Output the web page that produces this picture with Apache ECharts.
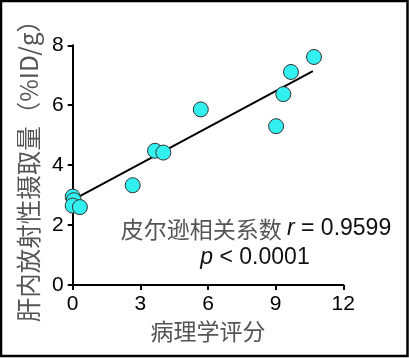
<!DOCTYPE html>
<html>
<head>
<meta charset="utf-8">
<script src="https://cdn.jsdelivr.net/npm/echarts@6/dist/echarts.min.js"></script>
<style>
html,body{margin:0;padding:0;background:#fff;}
#c{width:409px;height:358px;}
</style>
</head>
<body>
<div id="c"></div>
<script>
// Data
const pathologyScore = [0, 0.05, 0, 0.32, 2.66, 3.65, 4.02, 5.68, 9.02, 9.34, 9.68, 10.7];
const liverUptake    = [2.95, 2.83, 2.65, 2.6, 3.33, 4.48, 4.42, 5.86, 5.3, 6.37, 7.11, 7.61];
const fitLineX = [0.05, 10.65];
const fitLineY = [2.86, 7.14];
const xTicks = [0, 3, 6, 9, 12];
const yTicks = [0, 2, 4, 6, 8];
const xTitle = '病理学评分';
const yTitle = '肝内放射性摄取量（%ID/g）';
const annotLine1 = ['皮尔逊相关系数 ', 'r', ' = 0.9599'];
const annotLine2 = ['p', ' < 0.0001'];

const points = pathologyScore.map((x, i) => [x, liverUptake[i]]);
const fit = fitLineX.map((x, i) => [x, fitLineY[i]]);

const chart = echarts.init(document.getElementById('c'), null, {renderer: 'canvas'});
const numFont = 'Liberation Sans, Arial, sans-serif';
const cjkFont = '"Noto Sans CJK SC", sans-serif';

chart.setOption({
  animation: false,
  backgroundColor: '#fff',
  grid: {left: 72.7, right: 65.7, top: 45.3, bottom: 73, containLabel: false},
  xAxis: {
    type: 'value', min: xTicks[0], max: xTicks[xTicks.length - 1], interval: 3,
    name: xTitle, nameLocation: 'middle', nameGap: 31,
    nameTextStyle: {fontFamily: cjkFont, fontSize: 23, color: '#555'},
    axisLine: {show: true, onZero: false, lineStyle: {color: '#000', width: 2}},
    axisTick: {show: true, length: 5, lineStyle: {color: '#000', width: 2}},
    axisLabel: {margin: 9, fontFamily: numFont, fontSize: 21, color: '#000'},
    splitLine: {show: false}
  },
  yAxis: {
    type: 'value', min: yTicks[0], max: yTicks[yTicks.length - 1], interval: 2,
    name: yTitle, nameLocation: 'middle', nameGap: 29, nameRotate: 90,
    nameTextStyle: {fontFamily: cjkFont, fontSize: 24.5, color: '#555'},
    axisLine: {show: true, onZero: false, lineStyle: {color: '#000', width: 2}},
    axisTick: {show: true, length: 5, lineStyle: {color: '#000', width: 2}},
    axisLabel: {margin: 9, fontFamily: numFont, fontSize: 21, color: '#000'},
    splitLine: {show: false}
  },
  series: [
    {
      type: 'line', data: fit, symbol: 'none', z: 2,
      lineStyle: {color: '#000', width: 2}
    },
    {
      type: 'scatter', data: points, symbol: 'circle', symbolSize: 15, z: 3,
      itemStyle: {color: '#33f0f0', borderColor: '#333', borderWidth: 1, opacity: 1}
    }
  ],
  graphic: [
    {
      type: 'rect', shape: {x: 1, y: 1, width: 406.5, height: 355}, z: 100,
      style: {fill: 'none', stroke: '#000', lineWidth: 2.5}
    },
    {
      type: 'text', x: 256, y: 229, z: 50,
      style: {
        text: '{c|' + annotLine1[0] + '}{i|' + annotLine1[1] + '}{n|' + annotLine1[2] + '}',
        align: 'center', verticalAlign: 'middle',
        rich: {
          c: {fontFamily: cjkFont, fontSize: 23, fill: '#555'},
          i: {fontFamily: numFont, fontSize: 23, fontStyle: 'italic', fill: '#111'},
          n: {fontFamily: numFont, fontSize: 23, fill: '#111'}
        }
      }
    },
    {
      type: 'text', x: 255, y: 258, z: 50,
      style: {
        text: '{i|' + annotLine2[0] + '}{n|' + annotLine2[1] + '}',
        align: 'center', verticalAlign: 'middle',
        rich: {
          i: {fontFamily: numFont, fontSize: 23, fontStyle: 'italic', fill: '#111'},
          n: {fontFamily: numFont, fontSize: 23, fill: '#111'}
        }
      }
    }
  ]
});
</script>
</body>
</html>
